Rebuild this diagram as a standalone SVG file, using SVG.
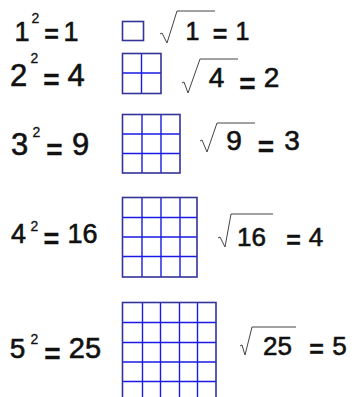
<svg xmlns="http://www.w3.org/2000/svg" width="357" height="397" viewBox="0 0 357 397">
<style>
text{font-family:"Liberation Sans",Arial,sans-serif;fill:#111;stroke:#111;stroke-width:0.6;text-anchor:middle}
.eq{font-weight:bold;stroke-width:0.3}
.sup{font-size:14px;stroke-width:0.3}
.out{fill:none;stroke:#333399;stroke-width:1.6}
.in{fill:none;stroke:#1a1ae6;stroke-width:1.4}
.rad{fill:none;stroke:#444;stroke-width:1}
</style>
<rect width="357" height="397" fill="#fff"/>
<g id="row1">
<text x="22" y="41" font-size="27">1</text>
<text class="sup" x="35.5" y="23">2</text>
<text class="eq" x="51.5" y="43" font-size="25">=</text>
<text x="71" y="41" font-size="27">1</text>
<rect class="out" x="122.5" y="21.5" width="21" height="19"/>
<path class="rad" d="M160,34 L162,33 L167,43 L177,11 H215"/>
<text x="192.5" y="40" font-size="25">1</text>
<text class="eq" x="220" y="43" font-size="25">=</text>
<text x="242.5" y="40" font-size="25">1</text>
</g>
<g id="row2">
<text x="18.5" y="86" font-size="31">2</text>
<text class="sup" x="34.5" y="63">2</text>
<text class="eq" x="51.5" y="89" font-size="28">=</text>
<text x="76" y="86" font-size="31">4</text>
<path class="in" d="M141.5,53.5 V93.5 M122.5,73 H161"/>
<rect class="out" x="122.5" y="53.5" width="38.5" height="40"/>
<path class="rad" d="M182,83 L184,82 L188,93 L200,59 H238"/>
<text x="216.5" y="87" font-size="28">4</text>
<text class="eq" x="247.5" y="93" font-size="28">=</text>
<text x="271.5" y="87" font-size="28">2</text>
</g>
<g id="row3">
<text x="19.5" y="155" font-size="31">3</text>
<text class="sup" x="36.5" y="137">2</text>
<text class="eq" x="54.5" y="159" font-size="28">=</text>
<text x="80.5" y="155" font-size="31">9</text>
<path class="in" d="M142,114 V173 M161,114 V173 M122.5,134 H180 M122.5,153.5 H180"/>
<rect class="out" x="122.5" y="114.5" width="57.5" height="58.5"/>
<path class="rad" d="M200,141 L202,140 L207,152 L217,123 H255"/>
<text x="234" y="150" font-size="28">9</text>
<text class="eq" x="266" y="156" font-size="28">=</text>
<text x="292" y="150" font-size="28">3</text>
</g>
<g id="row4">
<text x="18.5" y="243" font-size="27">4</text>
<text class="sup" x="34.5" y="231">2</text>
<text class="eq" x="51.5" y="248" font-size="27">=</text>
<text x="82.5" y="243" font-size="27">16</text>
<path class="in" d="M142,197 V277 M161,197 V277 M180,197 V277 M122.5,217.5 H197 M122.5,237 H197 M122.5,256.5 H197"/>
<rect class="out" x="122.5" y="197.5" width="74.5" height="79.5"/>
<path class="rad" d="M218,238 L220,237 L225,247 L231,214 H273"/>
<text x="251.5" y="246" font-size="26">16</text>
<text class="eq" x="293.5" y="249" font-size="25">=</text>
<text x="316" y="246" font-size="26">4</text>
</g>
<g id="row5">
<text x="17.5" y="358" font-size="28">5</text>
<text class="sup" x="34.5" y="344">2</text>
<text class="eq" x="52.5" y="363" font-size="28">=</text>
<text x="85" y="358" font-size="29">25</text>
<path class="in" d="M142.5,302 V400 M160.5,302 V400 M179.5,302 V400 M197.5,302 V400 M122.5,322.5 H216 M122.5,342.5 H216 M122.5,362 H216 M122.5,381.5 H216"/>
<rect class="out" x="122.5" y="302.5" width="93.5" height="98"/>
<path class="rad" d="M240,346 L242,345 L245,355 L252,327 H296"/>
<text x="277.5" y="355" font-size="26">25</text>
<text class="eq" x="316.5" y="358" font-size="25">=</text>
<text x="339.5" y="355" font-size="26">5</text>
</g>
</svg>
